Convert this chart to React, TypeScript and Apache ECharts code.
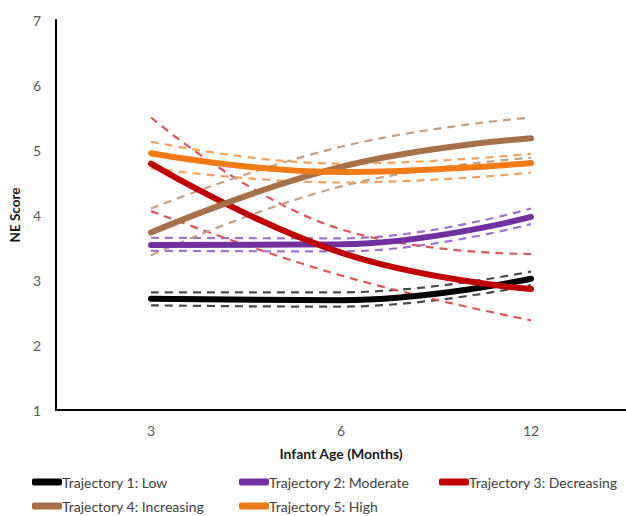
import React, { useEffect, useRef } from "react";
import * as echarts from "echarts";

const categories = ["3", "6", "12"];
const yTicks = [1, 2, 3, 4, 5, 6, 7];

const t1 = [2.71, 2.69, 3.02];
const t1Up = [2.81, 2.81, 3.13];
const t1Lo = [2.61, 2.59, 2.92];

const t2 = [3.54, 3.55, 3.97];
const t2Up = [3.65, 3.64, 4.1];
const t2Lo = [3.45, 3.44, 3.86];

const t3 = [4.79, 3.42, 2.86];
const t3Up = [5.5, 3.78, 3.4];
const t3Lo = [4.06, 3.07, 2.38];

const t4 = [3.73, 4.74, 5.18];
const t4Up = [4.1, 5.05, 5.5];
const t4Lo = [3.38, 4.44, 4.88];

const t5 = [4.95, 4.66, 4.8];
const t5Up = [5.13, 4.79, 4.94];
const t5Lo = [4.72, 4.5, 4.65];

const names = [
  "Trajectory 1: Low",
  "Trajectory 2: Moderate",
  "Trajectory 3: Decreasing",
  "Trajectory 4: Increasing",
  "Trajectory 5: High",
];

const groups = [
  { name: names[0], main: t1, up: t1Up, lo: t1Lo, color: "#000000", dash: "#4a4a4a" },
  { name: names[1], main: t2, up: t2Up, lo: t2Lo, color: "#7030A0", dash: "#9d72cc" },
  { name: names[2], main: t3, up: t3Up, lo: t3Lo, color: "#C00000", dash: "#d9545c" },
  { name: names[3], main: t4, up: t4Up, lo: t4Lo, color: "#A5714A", dash: "#c0a088" },
  { name: names[4], main: t5, up: t5Up, lo: t5Lo, color: "#F07A14", dash: "#f2a25e" },
];

const legendPos = [
  { left: 27, top: 470 },
  { left: 234, top: 470 },
  { left: 434, top: 470 },
  { left: 27, top: 494 },
  { left: 234, top: 494 },
];

export default function App() {
  const ref = useRef<HTMLDivElement>(null);
  useEffect(() => {
    if (!ref.current) return;
    const chart = echarts.init(ref.current, null, { renderer: "svg" });
    const series: any[] = [];
    groups.forEach((g) => {
      [g.up, g.lo].forEach((d, i) => {
        series.push({
          type: "line",
          name: g.name + (i === 0 ? " upper" : " lower"),
          data: d,
          smooth: 0.45,
          symbol: "none",
          z: 2,
          lineStyle: { color: g.dash, width: 2.2, type: [8, 6] },
        });
      });
    });
    groups.forEach((g) => {
      series.push({
        type: "line",
        name: g.name,
        data: g.main,
        smooth: 0.45,
        symbol: "none",
        z: 3,
        color: g.color,
        lineStyle: { color: g.color, width: 6, cap: "round" },
      });
    });
    const font = "Lato, 'Open Sans', sans-serif";
    const legends = names.map((n, i) => ({
      orient: "horizontal",
      left: legendPos[i].left,
      top: legendPos[i].top,
      itemWidth: 30,
      itemHeight: 7,
      icon: "roundRect",
      selectedMode: false,
      data: [n],
      textStyle: {
        fontFamily: font,
        fontSize: 14,
        color: "#404040",
        padding: [0, 0, 0, -5],
      },
    }));
    chart.setOption({
      animation: false,
      grid: { left: 52, top: 20, bottom: 106, width: 582 },
      legend: legends,
      xAxis: {
        type: "category",
        data: categories,
        boundaryGap: true,
        name: "Infant Age (Months)",
        nameLocation: "middle",
        nameGap: 36,
        nameTextStyle: {
          fontFamily: font,
          fontSize: 14,
          fontWeight: "bold",
          color: "#1a1a1a",
        },
        axisLine: { lineStyle: { color: "#000", width: 2 } },
        axisTick: { show: false },
        axisLabel: {
          margin: 13,
          fontFamily: font,
          fontSize: 14,
          color: "#595959",
        },
      },
      yAxis: {
        type: "value",
        min: yTicks[0],
        max: yTicks[yTicks.length - 1],
        interval: 1,
        name: "NE Score",
        nameLocation: "middle",
        nameRotate: 90,
        nameGap: 30,
        nameTextStyle: {
          fontFamily: font,
          fontSize: 13.5,
          fontWeight: "bold",
          color: "#1a1a1a",
        },
        axisLine: { show: true, lineStyle: { color: "#000", width: 2 } },
        axisTick: { show: false },
        splitLine: { show: false },
        axisLabel: {
          margin: 15,
          fontFamily: font,
          fontSize: 14,
          color: "#595959",
        },
      },
      series,
    });
    return () => chart.dispose();
  }, []);
  return (
    <div
      ref={ref}
      style={{ position: "absolute", left: 0, top: 0, width: 626, height: 516, background: "#fff" }}
    />
  );
}
